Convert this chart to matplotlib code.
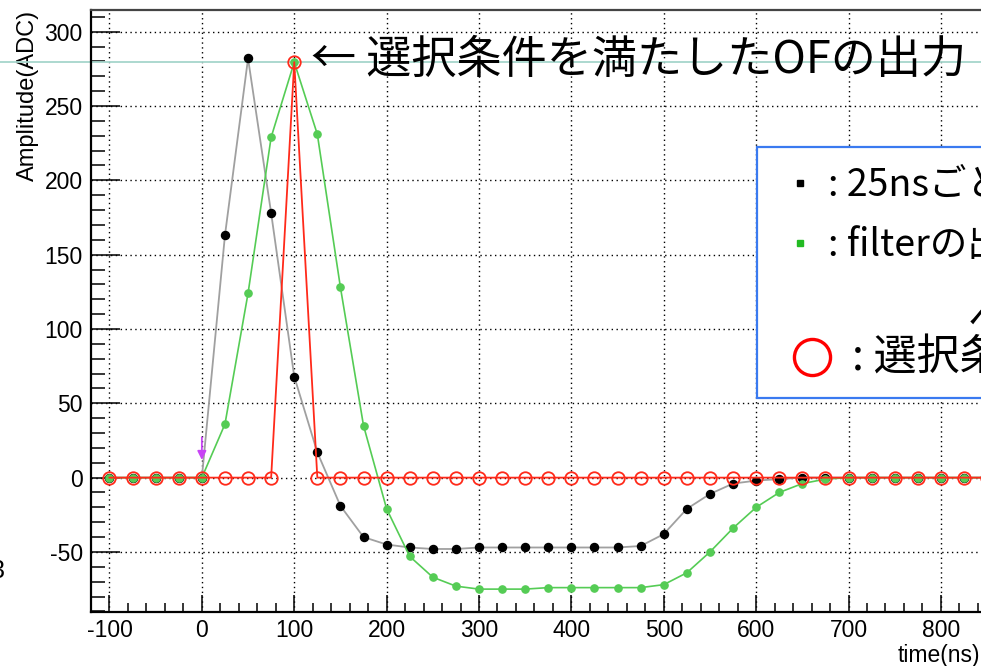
import matplotlib
matplotlib.use('Agg')
import matplotlib.pyplot as plt
from matplotlib.ticker import MultipleLocator
from matplotlib.patches import Rectangle
from matplotlib.lines import Line2D

plt.rcParams['font.family'] = ['Liberation Sans', 'DejaVu Sans']
plt.rcParams['axes.unicode_minus'] = False
JP = ['Noto Sans CJK JP', 'DejaVu Sans']

# 25ns sampling times (ns)
times = [-100, -75, -50, -25, 0, 25, 50, 75, 100, 125,
         150, 175, 200, 225, 250, 275, 300, 325, 350, 375,
         400, 425, 450, 475, 500, 525, 550, 575, 600, 625,
         650, 675, 700, 725, 750, 775, 800, 825, 850, 875]

# black: raw samples every 25ns (ADC)
samples = [0, 0, 0, 0, 0, 163, 282, 178, 68, 17,
           -19, -40, -45, -47, -48, -48, -47, -47, -47, -47,
           -47, -47, -47, -46, -38, -21, -11, -4, -2, -1,
           0, 0, 0, 0, 0, 0, 0, 0, 0, 0]

# green: filter output
filtered = [0, 0, 0, 0, 0, 36, 124, 229, 279.5, 231,
            128, 35, -21, -53, -67, -73, -75, -75, -75, -74,
            -74, -74, -74, -74, -72, -64, -50, -34, -20, -10,
            -4, -1, 0, 0, 0, 0, 0, 0, 0, 0]

# red: OF output passing the selection
selected = [0, 0, 0, 0, 0, 0, 0, 0, 279.5, 0,
            0, 0, 0, 0, 0, 0, 0, 0, 0, 0,
            0, 0, 0, 0, 0, 0, 0, 0, 0, 0,
            0, 0, 0, 0, 0, 0, 0, 0, 0, 0]

trigger_time = 0
trigger_arrow = (29, 10)

title_text = '← 選択条件を満たしたOFの出力'
legend_lines = [': 25nsごとのサンプル', ': filterの出力', ': 選択条件を満たしたOFの出力']

W, H = 981, 666
fig = plt.figure(figsize=(W / 100, H / 100), dpi=100)
ax = fig.add_axes([91 / W, 54 / H, 923.8 / W, 602 / H])
ax.set_xlim(-120, 880)
ax.set_ylim(-90.4, 314.6)

# ROOT-like frame and ticks
ax.xaxis.set_major_locator(MultipleLocator(100))
ax.xaxis.set_minor_locator(MultipleLocator(20))
ax.yaxis.set_major_locator(MultipleLocator(50))
ax.yaxis.set_minor_locator(MultipleLocator(10))
ax.tick_params(axis='both', which='both', direction='in', width=1.1, colors='black',
               labelsize=16.5, top=False, right=False)
ax.tick_params(axis='y', which='major', length=21, pad=6)
ax.tick_params(axis='y', which='minor', length=10)
ax.tick_params(axis='x', which='major', length=12, pad=5)
ax.tick_params(axis='x', which='minor', length=6.5)
for s in ['left', 'bottom']:
    ax.spines[s].set_linewidth(1.6)
ax.spines['top'].set_linewidth(1.6)
ax.spines['top'].set_color('#444444')
ax.grid(True, which='major', color='black', linestyle=(0, (1, 2.5)), linewidth=1.0)
ax.set_axisbelow(True)

ax.set_ylabel('Amplitude(ADC)', loc='top', fontsize=17)
ax.yaxis.set_label_coords(-0.056, 1.0)
ax.set_xlabel('time(ns)', loc='right', fontsize=16.5)
ax.xaxis.set_label_coords((980 - 91) / 923.8, -0.053)

# peak level line across the slide
ax.axhline(max(selected), xmin=-0.2, xmax=1.2, color='#a6d6cc', lw=1.3,
           clip_on=False, zorder=1)

ax.plot(times, samples, color='#a0a0a0', lw=1.3, zorder=2)
ax.plot(times, samples, 'o', color='black', ms=5.8, zorder=3)
ax.plot(times, filtered, '-o', color='#55cc55', lw=1.2, ms=5.2, zorder=4)
ax.plot(times, selected, '-', color='#ff2a1a', lw=1.3, zorder=5)
ax.plot(times, selected, 'o', mfc='none', mec='#ff2a1a', mew=1.3, ms=9, zorder=6)

ax.annotate('', xy=(trigger_time, trigger_arrow[1]), xytext=(trigger_time, trigger_arrow[0]),
            arrowprops=dict(arrowstyle='-|>', color='#c844f5', lw=1.3, mutation_scale=13),
            zorder=7)

# slide overlay: title and legend box
fig.text(311 / W, 1 - 60 / H, title_text, fontsize=32.5, family=JP, va='center', ha='left')

box = Rectangle((757 / W, 1 - 398 / H), 0.4, 251 / H, transform=fig.transFigure,
                facecolor='white', edgecolor='#3a7af0', lw=1.6, zorder=10)
fig.add_artist(box)

fig.add_artist(Line2D([800 / W], [1 - 183 / H], marker='s', color='black', ms=4.5,
                      transform=fig.transFigure, zorder=11))
fig.add_artist(Line2D([800 / W], [1 - 243 / H], marker='s', color='#22bb22', ms=4.5,
                      transform=fig.transFigure, zorder=11))
fig.add_artist(Line2D([812 / W], [1 - 357 / H], marker='o', mfc='none', mec='#ff0000',
                      mew=2.4, ms=26, transform=fig.transFigure, zorder=11))

fig.text(828 / W, 1 - 196 / H, legend_lines[0], fontsize=27, family=JP, va='baseline', zorder=12)
fig.text(828 / W, 1 - 256 / H, legend_lines[1], fontsize=27, family=JP, va='baseline', zorder=12)
fig.text(968 / W, 1 - 332 / H, 'ヘ', fontsize=27, family=JP, va='baseline', zorder=12)
fig.text(852 / W, 1 - 371 / H, legend_lines[2], fontsize=31, family=JP, va='baseline', zorder=12)

# cut-off character at the left edge of the slide
fig.text(-9 / W, 1 - 578 / H, '3', fontsize=18, va='baseline')

fig.savefig('out.png', dpi=100)
